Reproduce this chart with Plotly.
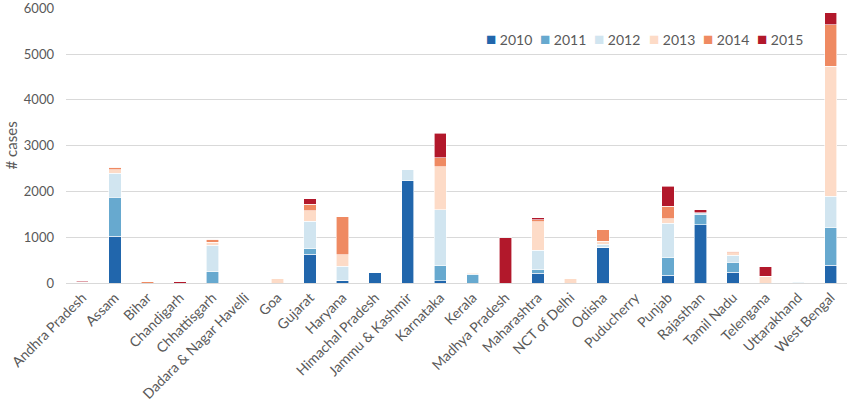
import plotly.graph_objects as go

states = ['Andhra Pradesh', 'Assam', 'Bihar', 'Chandigarh', 'Chhattisgarh',
          'Dadara & Nagar Havelli', 'Goa', 'Gujarat', 'Haryana', 'Himachal Pradesh',
          'Jammu & Kashmir', 'Karnataka', 'Kerala', 'Madhya Pradesh', 'Maharashtra',
          'NCT of Delhi', 'Odisha', 'Puducherry', 'Punjab', 'Rajasthan',
          'Tamil Nadu', 'Telengana', 'Uttarakhand', 'West Bengal']

# cases per year, one value per state above
y2010 = [0, 1020, 0, 0, 0, 0, 0, 630, 50, 232, 2230, 45, 0, 0, 215, 0, 780, 0, 165, 1270, 240, 0, 0, 390]
y2011 = [0, 850, 0, 0, 245, 0, 0, 115, 10, 0, 0, 330, 180, 0, 75, 0, 0, 0, 385, 230, 210, 0, 10, 820]
y2012 = [0, 530, 0, 0, 575, 0, 0, 600, 310, 0, 240, 1230, 25, 0, 425, 0, 65, 5, 755, 35, 160, 0, 25, 680]
y2013 = [15, 70, 0, 0, 65, 10, 100, 230, 250, 0, 0, 935, 35, 0, 620, 100, 65, 0, 95, 0, 50, 150, 0, 2840]
y2014 = [0, 60, 30, 0, 65, 0, 0, 145, 825, 0, 0, 195, 0, 0, 50, 0, 250, 0, 280, 0, 30, 0, 0, 905]
y2015 = [25, 0, 0, 30, 0, 0, 0, 120, 0, 0, 0, 535, 0, 990, 40, 0, 0, 0, 435, 65, 0, 210, 0, 270]

years = ['2010', '2011', '2012', '2013', '2014', '2015']
series = [y2010, y2011, y2012, y2013, y2014, y2015]
colors = ['#2166ac', '#67a9cf', '#d1e5f0', '#fddbc7', '#ef8a62', '#b2182b']

font = 'Lato, Open Sans, sans-serif'
grey = '#595959'

fig = go.Figure()
for year, vals, col in zip(years, series, colors):
    fig.add_trace(go.Bar(
        name=year, x=states, y=vals,
        marker=dict(color=col, line=dict(color='white', width=0.6)),
        showlegend=False,
    ))

# legend drawn as a row of annotations so the spacing matches the original
for i, (year, col) in enumerate(zip(years, colors)):
    fig.add_annotation(
        x=0.535 + i * 0.0695, y=0.89, xref='paper', yref='paper',
        xanchor='left', yanchor='middle', showarrow=False,
        text=f"<span style='color:{col};font-size:17px'>■</span> {year}",
        font=dict(size=14, color=grey, family=font),
    )

# y axis title
fig.add_annotation(
    x=-0.0705, y=0.5, xref='paper', yref='paper',
    xanchor='center', yanchor='middle', showarrow=False, textangle=-90,
    text='# cases', font=dict(size=15, color=grey, family=font),
)

fig.update_layout(
    barmode='stack',
    bargap=0.62,
    width=850, height=402,
    plot_bgcolor='white',
    paper_bgcolor='white',
    margin=dict(l=66, r=3, t=8, b=119, autoexpand=False),
    font=dict(family=font, size=13, color=grey),
)
fig.update_xaxes(
    automargin=False,
    tickangle=-45,
    tickfont=dict(size=14, color=grey),
    showline=True, linecolor='#d9d9d9', linewidth=1,
    ticks='',
)
fig.update_yaxes(
    automargin=False,
    range=[0, 6005],
    tickvals=[0, 1000, 2000, 3000, 4000, 5000, 6000],
    ticklabeloverflow='allow',
    ticklabelstandoff=11,
    showgrid=True, gridcolor='#d9d9d9', gridwidth=1,
    zeroline=False,
    tickfont=dict(size=13, color=grey),
)

# page body has a default 8px margin; drop it so the figure sits at the corner
fig.write_html("out.html", config={'displayModeBar': False},
               post_script="document.body.style.margin='0';")
